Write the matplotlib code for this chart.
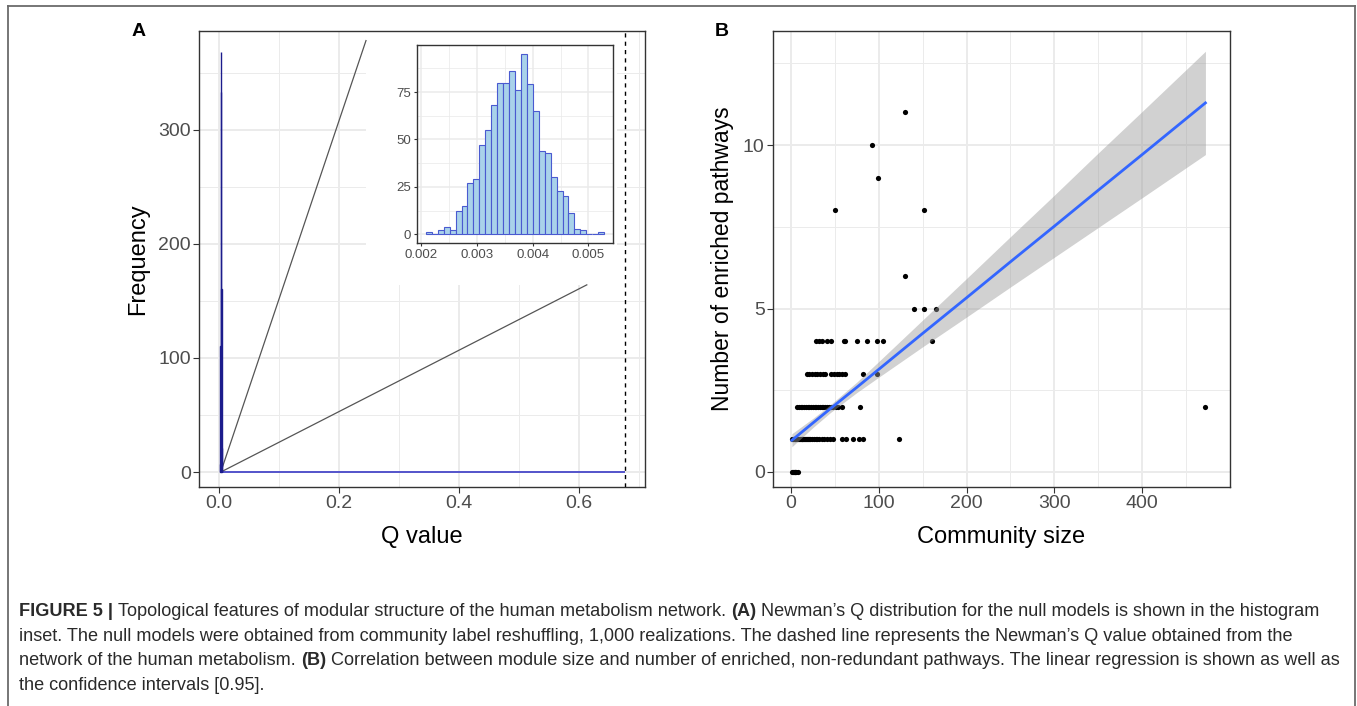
import matplotlib
matplotlib.use("Agg")
import matplotlib.pyplot as plt
import numpy as np
from matplotlib.patches import Rectangle

W, H, DPI = 1357, 706, 100

# ---------------- Panel A data ----------------
inset_counts = [1, 0, 2, 4, 2, 12, 15, 27, 29, 47, 55, 68, 80, 80, 86, 76, 95, 79,
                65, 44, 43, 30, 23, 20, 11, 3, 2, 0, 0, 1]
inset_range = [0.00209, 0.00528]
inset_xticks = [0.002, 0.003, 0.004, 0.005]
inset_xticklabels = ["0.002", "0.003", "0.004", "0.005"]
inset_yticks = [0, 25, 50, 75]

main_bin_edges = [0.0020, 0.0025, 0.0030, 0.0035, 0.0040, 0.0045, 0.0050, 0.0055]
main_counts = [7, 110, 333, 368, 160, 21, 1]
observed_q = 0.677
zoom_origin = (0.003, 0)
zoom_ends_x = [0.245, 0.613]
zoom_ends_y = [378, 164]
a_xticks = [0.0, 0.2, 0.4, 0.6]
a_xticklabels = ["0.0", "0.2", "0.4", "0.6"]
a_yticks = [0, 100, 200, 300]

# ---------------- Panel B data ----------------
size_e0 = [1, 2, 3, 4, 5, 6, 8]
size_e1 = [1, 2, 3, 4, 5, 6, 7, 8, 9, 10, 11, 12, 13, 14, 15, 16, 17, 18, 19, 20,
           22, 24, 26, 28, 30, 32, 35, 38, 41, 44, 48, 58, 63, 71, 77, 82, 123]
size_e2 = [7, 9, 11, 13, 15, 17, 19, 21, 23, 25, 27, 29, 31, 33, 35, 37, 39, 41,
           43, 45, 48, 51, 54, 58, 79, 472]
size_e3 = [18, 21, 24, 27, 30, 33, 36, 39, 46, 49, 52, 55, 58, 62, 82, 98]
size_e4 = [29, 32, 35, 41, 45, 60, 62, 75, 86, 98, 105, 161]
size_e5 = [140, 152, 165]
size_e6 = [130]
size_e8 = [50, 152]
size_e9 = [99]
size_e10 = [92]
size_e11 = [130]

smooth_x = [1, 25, 45, 75, 100, 150, 200, 250, 300, 350, 400, 472]
smooth_fit = [0.97, 1.50, 1.94, 2.59, 3.14, 4.24, 5.33, 6.43, 7.52, 8.62, 9.71, 11.29]
smooth_lo = [0.77, 1.36, 1.82, 2.43, 2.90, 3.83, 4.74, 5.66, 6.57, 7.48, 8.39, 9.71]
smooth_hi = [1.17, 1.64, 2.06, 2.75, 3.38, 4.65, 5.92, 7.20, 8.47, 9.76, 11.03, 12.87]
b_xticks = [0, 100, 200, 300, 400]
b_yticks = [0, 5, 10]

caption_lines = [
    [("FIGURE 5 | ", True), ("Topological features of modular structure of the human metabolism network. ", False),
     ("(A)", True), (" Newman\u2019s Q distribution for the null models is shown in the histogram", False)],
    [("inset. The null models were obtained from community label reshuffling, 1,000 realizations. "
      "The dashed line represents the Newman\u2019s Q value obtained from the", False)],
    [("network of the human metabolism. ", False), ("(B)", True),
     (" Correlation between module size and number of enriched, non-redundant pathways. "
      "The linear regression is shown as well as", False)],
    [("the confidence intervals [0.95].", False)],
]

# ---------------- style ----------------
plt.rcParams['font.family'] = ['Liberation Sans', 'DejaVu Sans']
GRID = '#EBEBEB'
TICKC = '#4D4D4D'
BORDER = '#333333'

fig = plt.figure(figsize=(W / DPI, H / DPI), dpi=DPI)
fig.patch.set_facecolor('white')


def px(x, y):
    return x / W, 1 - y / H


def style_axes(ax, xmaj, ymaj, xmin, ymin, lsize, tlen, glw=1.4, pad=3):
    ax.set_axisbelow(True)
    ax.set_xticks(xmaj)
    ax.set_yticks(ymaj)
    ax.set_xticks(xmin, minor=True)
    ax.set_yticks(ymin, minor=True)
    ax.grid(which='major', color=GRID, lw=glw)
    ax.grid(which='minor', color=GRID, lw=glw * 0.5)
    ax.tick_params(which='minor', length=0)
    ax.tick_params(which='major', length=tlen, width=0.8, color=BORDER,
                   labelsize=lsize, labelcolor=TICKC, pad=pad)
    for s in ax.spines.values():
        s.set_color(BORDER)
        s.set_linewidth(1.0)


TOP, BOT = 31, 487

# ---------------- Panel A ----------------
x0, y0 = px(199, BOT)
axA = fig.add_axes([x0, y0, (645 - 199) / W, (BOT - TOP) / H])
axA.set_xlim(-0.0333, 0.71)
axA.set_ylim(-13.1, 386.4)
style_axes(axA, a_xticks, a_yticks, [0.1, 0.3, 0.5, 0.7], [50, 150, 250, 350], 14, 4, pad=2)
axA.set_xticklabels(a_xticklabels)

edges = np.array(main_bin_edges)
axA.hlines(0, edges[0], observed_q, color='#4848c8', lw=1.3, zorder=3)
axA.bar(edges[:-1], main_counts, width=np.diff(edges), align='edge',
        facecolor='#ADD8E6', edgecolor='#1c1c8c', lw=1.0, zorder=3)
axA.axvline(observed_q, color='black', ls=(0, (3, 3)), lw=1.0, zorder=4)
for ex, ey in zip(zoom_ends_x, zoom_ends_y):
    axA.plot([zoom_origin[0], ex], [zoom_origin[1], ey], color='#555555', lw=0.9, zorder=2)
axA.add_patch(Rectangle((zoom_ends_x[0], zoom_ends_y[1]), 0.418, 400,
                        facecolor='white', edgecolor='none', zorder=1))

iax = axA.inset_axes([0.330, 200.5, 0.3267, 173.5], transform=axA.transData)
ie = np.linspace(inset_range[0], inset_range[1], len(inset_counts) + 1)
iax.bar(ie[:-1], inset_counts, width=np.diff(ie), align='edge',
        facecolor='#A9D2EA', edgecolor='#4a5ad0', lw=0.8, zorder=3)
iax.set_xlim(0.00193, 0.00544)
iax.set_ylim(-4.75, 99.75)
style_axes(iax, inset_xticks, inset_yticks, [0.0025, 0.0035, 0.0045],
           [12.5, 37.5, 62.5, 87.5], 9.5, 2.5, glw=1.1, pad=2)
iax.set_xticklabels(inset_xticklabels)

# ---------------- Panel B ----------------
x0, y0 = px(773, BOT)
axB = fig.add_axes([x0, y0, (1230 - 773) / W, (BOT - TOP) / H])
axB.set_xlim(-20.5, 500)
axB.set_ylim(-0.46, 13.49)
style_axes(axB, b_xticks, b_yticks, [50, 150, 250, 350, 450], [2.5, 7.5, 12.5], 14, 4, pad=2)

levels = [(size_e0, 0), (size_e1, 1), (size_e2, 2), (size_e3, 3), (size_e4, 4), (size_e5, 5),
          (size_e6, 6), (size_e8, 8), (size_e9, 9), (size_e10, 10), (size_e11, 11)]
bx = np.concatenate([np.array(s, float) for s, _ in levels])
by = np.concatenate([np.full(len(s), v, float) for s, v in levels])
axB.scatter(bx, by, s=14, color='black', lw=0, zorder=3)
axB.fill_between(smooth_x, smooth_lo, smooth_hi, color='#999999', alpha=0.45, lw=0, zorder=4)
axB.plot(smooth_x, smooth_fit, color='#3366FF', lw=2.0, zorder=5)

# ---------------- titles / labels ----------------
fig.text(*px(422, 537), "Q value", ha='center', va='center', fontsize=17, color='black')
fig.text(*px(138, 259), "Frequency", ha='center', va='center', rotation=90, fontsize=17, color='black')
fig.text(*px(1001, 537), "Community size", ha='center', va='center', fontsize=17, color='black')
fig.text(*px(722, 259), "Number of enriched pathways", ha='center', va='center', rotation=90,
         fontsize=16.5, color='black')
fig.text(*px(139, 31), "A", ha='center', va='center', fontsize=14, fontweight='bold')
fig.text(*px(722, 31), "B", ha='center', va='center', fontsize=14, fontweight='bold')

# frame
fig.add_artist(plt.Line2D([8 / W, 8 / W], [0, 1 - 6 / H], color='#6b6b6b', lw=1.3))
fig.add_artist(plt.Line2D([8 / W, 1355 / W], [1 - 6 / H, 1 - 6 / H], color='#6b6b6b', lw=1.3))
fig.add_artist(plt.Line2D([1355 / W, 1355 / W], [0, 1 - 6 / H], color='#6b6b6b', lw=1.3))

# ---------------- caption ----------------
renderer = fig.canvas.get_renderer()
cap_family = ['Liberation Sans', 'DejaVu Sans']


def run_width(runs, size):
    w = 0
    for txt, bold in runs:
        t = fig.text(0, 0, txt, fontsize=size, family=cap_family,
                     fontweight='bold' if bold else 'normal')
        w += t.get_window_extent(renderer).width
        t.remove()
    return w


base = 12.0
cap_size = base * (1302 / run_width(caption_lines[0], base))
baselines = [616, 641, 665, 690]
for runs, yb in zip(caption_lines, baselines):
    x = 19
    for txt, bold in runs:
        t = fig.text(x / W, 1 - yb / H, txt, fontsize=cap_size, family=cap_family,
                     fontweight='bold' if bold else 'normal', color='#2a2a2a',
                     ha='left', va='baseline')
        x += t.get_window_extent(renderer).width

fig.savefig("out.png", dpi=DPI, facecolor='white')
